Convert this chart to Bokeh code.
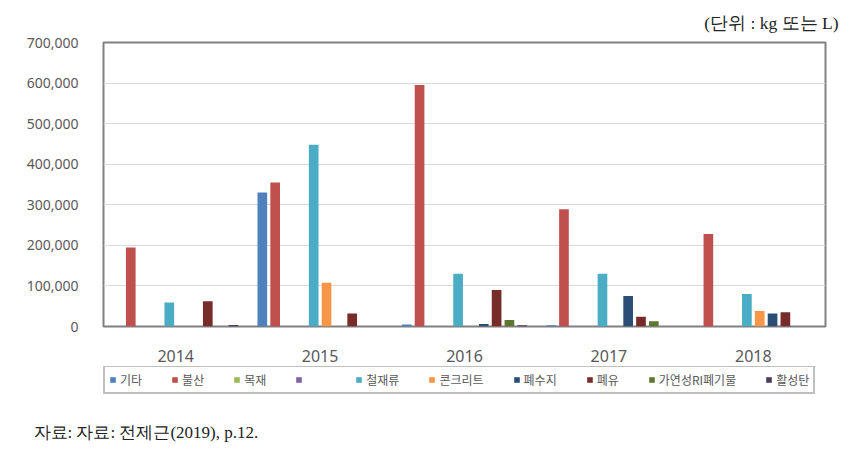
from bokeh.plotting import figure
from bokeh.models import (ColumnDataSource, FactorRange, Legend, LegendItem, Title,
                          NumeralTickFormatter, FixedTicker, Range1d)
from bokeh.layouts import column
from bokeh.transform import dodge
from bokeh.embed import file_html
from bokeh.resources import INLINE

years = ["2014", "2015", "2016", "2017", "2018"]
series = ["기타", "불산", "목재", " ", "철재류", "콘크리트", "폐수지", "폐유", "가연성RI폐기물", "활성탄"]
colors = ["#4F81BD", "#C0504D", "#9BBB59", "#8064A2", "#4BACC6", "#F79646",
          "#2C4D75", "#772C2A", "#5F7530", "#4D3B62"]

gita      = [0, 330000, 5000, 3000, 0]
bulsan    = [195000, 355000, 595000, 289000, 228000]
mokjae    = [0, 0, 0, 0, 0]
purple    = [0, 0, 0, 0, 0]
cheoljae  = [59000, 448000, 130000, 130000, 80000]
concrete  = [0, 108000, 0, 0, 38000]
pyesuji   = [0, 0, 6000, 75000, 32000]
pyeyu     = [62000, 32000, 90000, 24000, 35000]
gayeon    = [0, 0, 16000, 13000, 0]
hwalseong = [4000, 0, 3000, 0, 0]

values = [gita, bulsan, mokjae, purple, cheoljae, concrete, pyesuji, pyeyu, gayeon, hwalseong]
keys = ["s%d" % i for i in range(len(series))]

data = {"year": years}
for k, v in zip(keys, values):
    data[k] = v
source = ColumnDataSource(data)

# ---- main chart ----
p = figure(x_range=FactorRange(*years), y_range=(0, 700000),
           width=860, height=366, output_backend="svg", toolbar_location=None,
           min_border_left=103, min_border_right=35, min_border_top=40, min_border_bottom=40)

pitch = 0.0889
bw = 0.067
for i, (k, c) in enumerate(zip(keys, colors)):
    p.vbar(x=dodge("year", (i - 4.5) * pitch, range=p.x_range), top=k, width=bw,
           source=source, fill_color=c, line_color=None)

p.outline_line_color = "#808080"
p.outline_line_width = 2
p.xgrid.grid_line_color = None
p.ygrid.grid_line_color = "#d9d9d9"
p.ygrid.grid_line_width = 1

p.yaxis.ticker = FixedTicker(ticks=[0, 100000, 200000, 300000, 400000, 500000, 600000, 700000])
p.yaxis.formatter = NumeralTickFormatter(format="0,0")
p.yaxis.axis_line_color = None
p.yaxis.major_tick_line_color = None
p.yaxis.minor_tick_line_color = None
p.yaxis.major_label_standoff = 19
p.yaxis.major_label_text_font = "Noto Sans"
p.yaxis.major_label_text_font_size = "14px"
p.yaxis.major_label_text_color = "#595959"

p.xaxis.axis_line_color = None
p.xaxis.major_tick_line_color = None
p.xaxis.major_label_standoff = 17
p.xaxis.major_label_text_font = "Noto Sans"
p.xaxis.major_label_text_font_size = "16px"
p.xaxis.major_label_text_color = "#595959"

p.add_layout(Title(text="(단위 : kg 또는 L)", align="right", offset=-13, standoff=20,
                   text_font="Liberation Serif", text_font_size="17.5px",
                   text_font_style="normal", text_color="#222222"), "above")

# ---- legend strip and source note ----
p2 = figure(width=860, height=85, x_range=p.x_range, y_range=Range1d(-10, -5),
            output_backend="svg", toolbar_location=None, x_axis_type=None, y_axis_type=None,
            min_border_left=103, min_border_right=35, min_border_top=0, min_border_bottom=35)
p2.outline_line_color = None
p2.xgrid.grid_line_color = None
p2.ygrid.grid_line_color = None

items = []
for i, (k, c, name) in enumerate(zip(keys, colors, series)):
    r = p2.vbar(x=dodge("year", (i - 4.5) * pitch, range=p.x_range), top=k, width=bw,
                source=source, fill_color=c, line_color=None)
    items.append(LegendItem(label=name, renderers=[r]))

legend = Legend(items=items, orientation="horizontal", location=(0, 22),
                label_text_font="Noto Sans CJK KR", label_text_font_size="12px",
                label_text_color="#595959", glyph_width=7, glyph_height=7,
                label_standoff=4, spacing=29, padding=4, margin=0,
                border_line_color="#808080", border_line_width=2,
                label_height=14)
p2.add_layout(legend, "center")

p2.add_layout(Title(text="자료: 자료: 전제근(2019), p.12.", align="left", offset=-70,
                    standoff=8, text_font="Liberation Serif", text_font_size="17px",
                    text_font_style="normal", text_color="#222222"), "below")

layout = column(p, p2, spacing=0)
open("out.html", "w").write(file_html(layout, INLINE))
